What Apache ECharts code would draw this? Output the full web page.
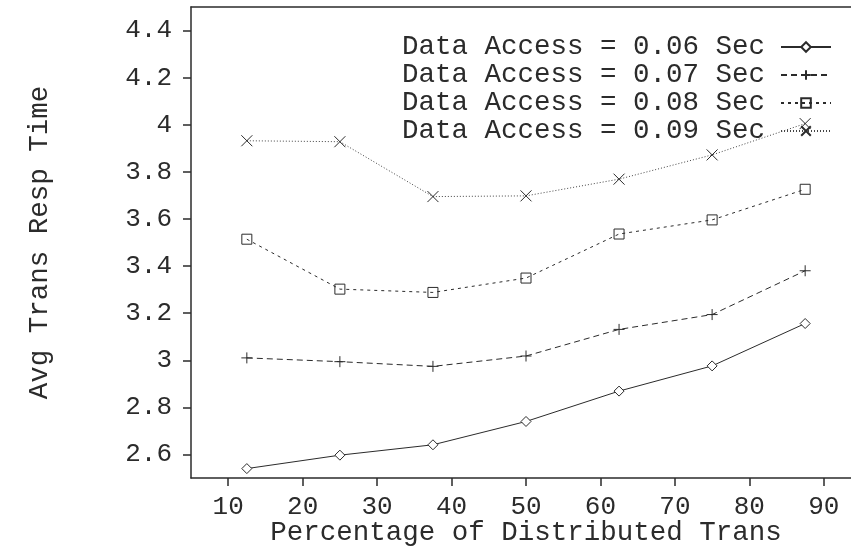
<!DOCTYPE html>
<html>
<head>
<meta charset="utf-8">
<script src="https://cdn.jsdelivr.net/npm/echarts@6/dist/echarts.min.js"></script>
<style>
  html, body { margin: 0; padding: 0; background: #fff; }
  #chart { width: 851px; height: 551px; }
</style>
</head>
<body>
<div id="chart"></div>
<script>
// Data
const xValues = [12.5, 25, 37.5, 50, 62.5, 75, 87.5];
const access006 = [2.54, 2.597, 2.641, 2.74, 2.869, 2.976, 3.156];
const access007 = [3.01, 2.994, 2.974, 3.018, 3.131, 3.194, 3.38];
const access008 = [3.514, 3.302, 3.288, 3.349, 3.536, 3.596, 3.726];
const access009 = [3.932, 3.928, 3.695, 3.698, 3.769, 3.872, 4.005];
const seriesNames = [
  'Data Access = 0.06 Sec',
  'Data Access = 0.07 Sec',
  'Data Access = 0.08 Sec',
  'Data Access = 0.09 Sec'
];
const xTicks = [10, 20, 30, 40, 50, 60, 70, 80, 90];
const yTicks = [2.6, 2.8, 3, 3.2, 3.4, 3.6, 3.8, 4, 4.2, 4.4];

const ink = '#2b2b2b';
const font = 'Liberation Mono, Courier New, monospace';

const pair = (ys) => xValues.map((x, i) => [x, ys[i]]);

const plusPath = 'path://M0,5L10,5M5,0L5,10';
const crossPath = 'path://M0,0L10,10M10,0L0,10';

const markerStyle = (fill) => ({
  color: fill,
  borderColor: ink,
  borderWidth: 1
});

const chart = echarts.init(document.getElementById('chart'), null, { renderer: 'canvas' });

chart.setOption({
  animation: false,
  backgroundColor: '#fff',
  grid: {
    left: 191,
    top: 7,
    bottom: 73,
    right: -10,
    outerBoundsMode: 'none',
    containLabel: false,
    show: false
  },
  legend: {
    orient: 'vertical',
    right: 14,
    top: 28,
    align: 'right',
    itemWidth: 50,
    itemHeight: 12,
    itemGap: 0,
    textStyle: {
      fontFamily: font,
      fontSize: 27.5,
      color: ink,
      lineHeight: 28,
      padding: [0, 11, 0, 0]
    },
    data: seriesNames
  },
  xAxis: [
    {
      type: 'value',
      min: 5,
      max: 95,
      name: 'Percentage of Distributed Trans',
      nameLocation: 'middle',
      nameGap: 41,
      nameMoveOverlap: false,
      nameTextStyle: { fontFamily: font, fontSize: 27.5, color: ink },
      axisLine: { lineStyle: { color: ink, width: 1.5 } },
      axisTick: { show: true, length: 8, customValues: xTicks, lineStyle: { color: ink, width: 1.5 } },
      axisLabel: { customValues: xTicks, margin: 16, fontFamily: font, fontSize: 26, color: ink },
      splitLine: { show: false }
    },
    {
      // top frame line only
      type: 'value',
      position: 'top',
      min: 5,
      max: 95,
      axisLine: { show: true, lineStyle: { color: ink, width: 1.5 } },
      axisTick: { show: false },
      axisLabel: { show: false },
      splitLine: { show: false }
    }
  ],
  yAxis: {
    type: 'value',
    min: 2.5,
    max: 4.5,
    name: 'Avg Trans Resp Time',
    nameLocation: 'middle',
    nameGap: 137,
    nameMoveOverlap: false,
    nameTextStyle: { fontFamily: font, fontSize: 27.5, color: ink },
    axisLine: { show: true, lineStyle: { color: ink, width: 1.5 } },
    axisTick: { show: true, length: 8, customValues: yTicks, lineStyle: { color: ink, width: 1.5 } },
    axisLabel: { customValues: yTicks, margin: 19, fontFamily: font, fontSize: 26, color: ink },
    splitLine: { show: false }
  },
  series: [
    {
      name: seriesNames[0],
      type: 'line',
      data: pair(access006),
      symbol: 'diamond',
      symbolSize: 10,
      lineStyle: { color: ink, width: 1, type: 'solid' },
      itemStyle: markerStyle('#fff')
    },
    {
      name: seriesNames[1],
      type: 'line',
      data: pair(access007),
      symbol: plusPath,
      symbolSize: 11,
      lineStyle: { color: ink, width: 1, type: [6, 4] },
      itemStyle: markerStyle('transparent')
    },
    {
      name: seriesNames[2],
      type: 'line',
      data: pair(access008),
      symbol: 'rect',
      symbolSize: 10,
      lineStyle: { color: ink, width: 1, type: [3, 4] },
      itemStyle: markerStyle('transparent')
    },
    {
      name: seriesNames[3],
      type: 'line',
      data: pair(access009),
      symbol: crossPath,
      symbolSize: 11,
      lineStyle: { color: '#444', width: 1, type: [1, 2] },
      itemStyle: markerStyle('transparent')
    }
  ]
});
</script>
</body>
</html>
